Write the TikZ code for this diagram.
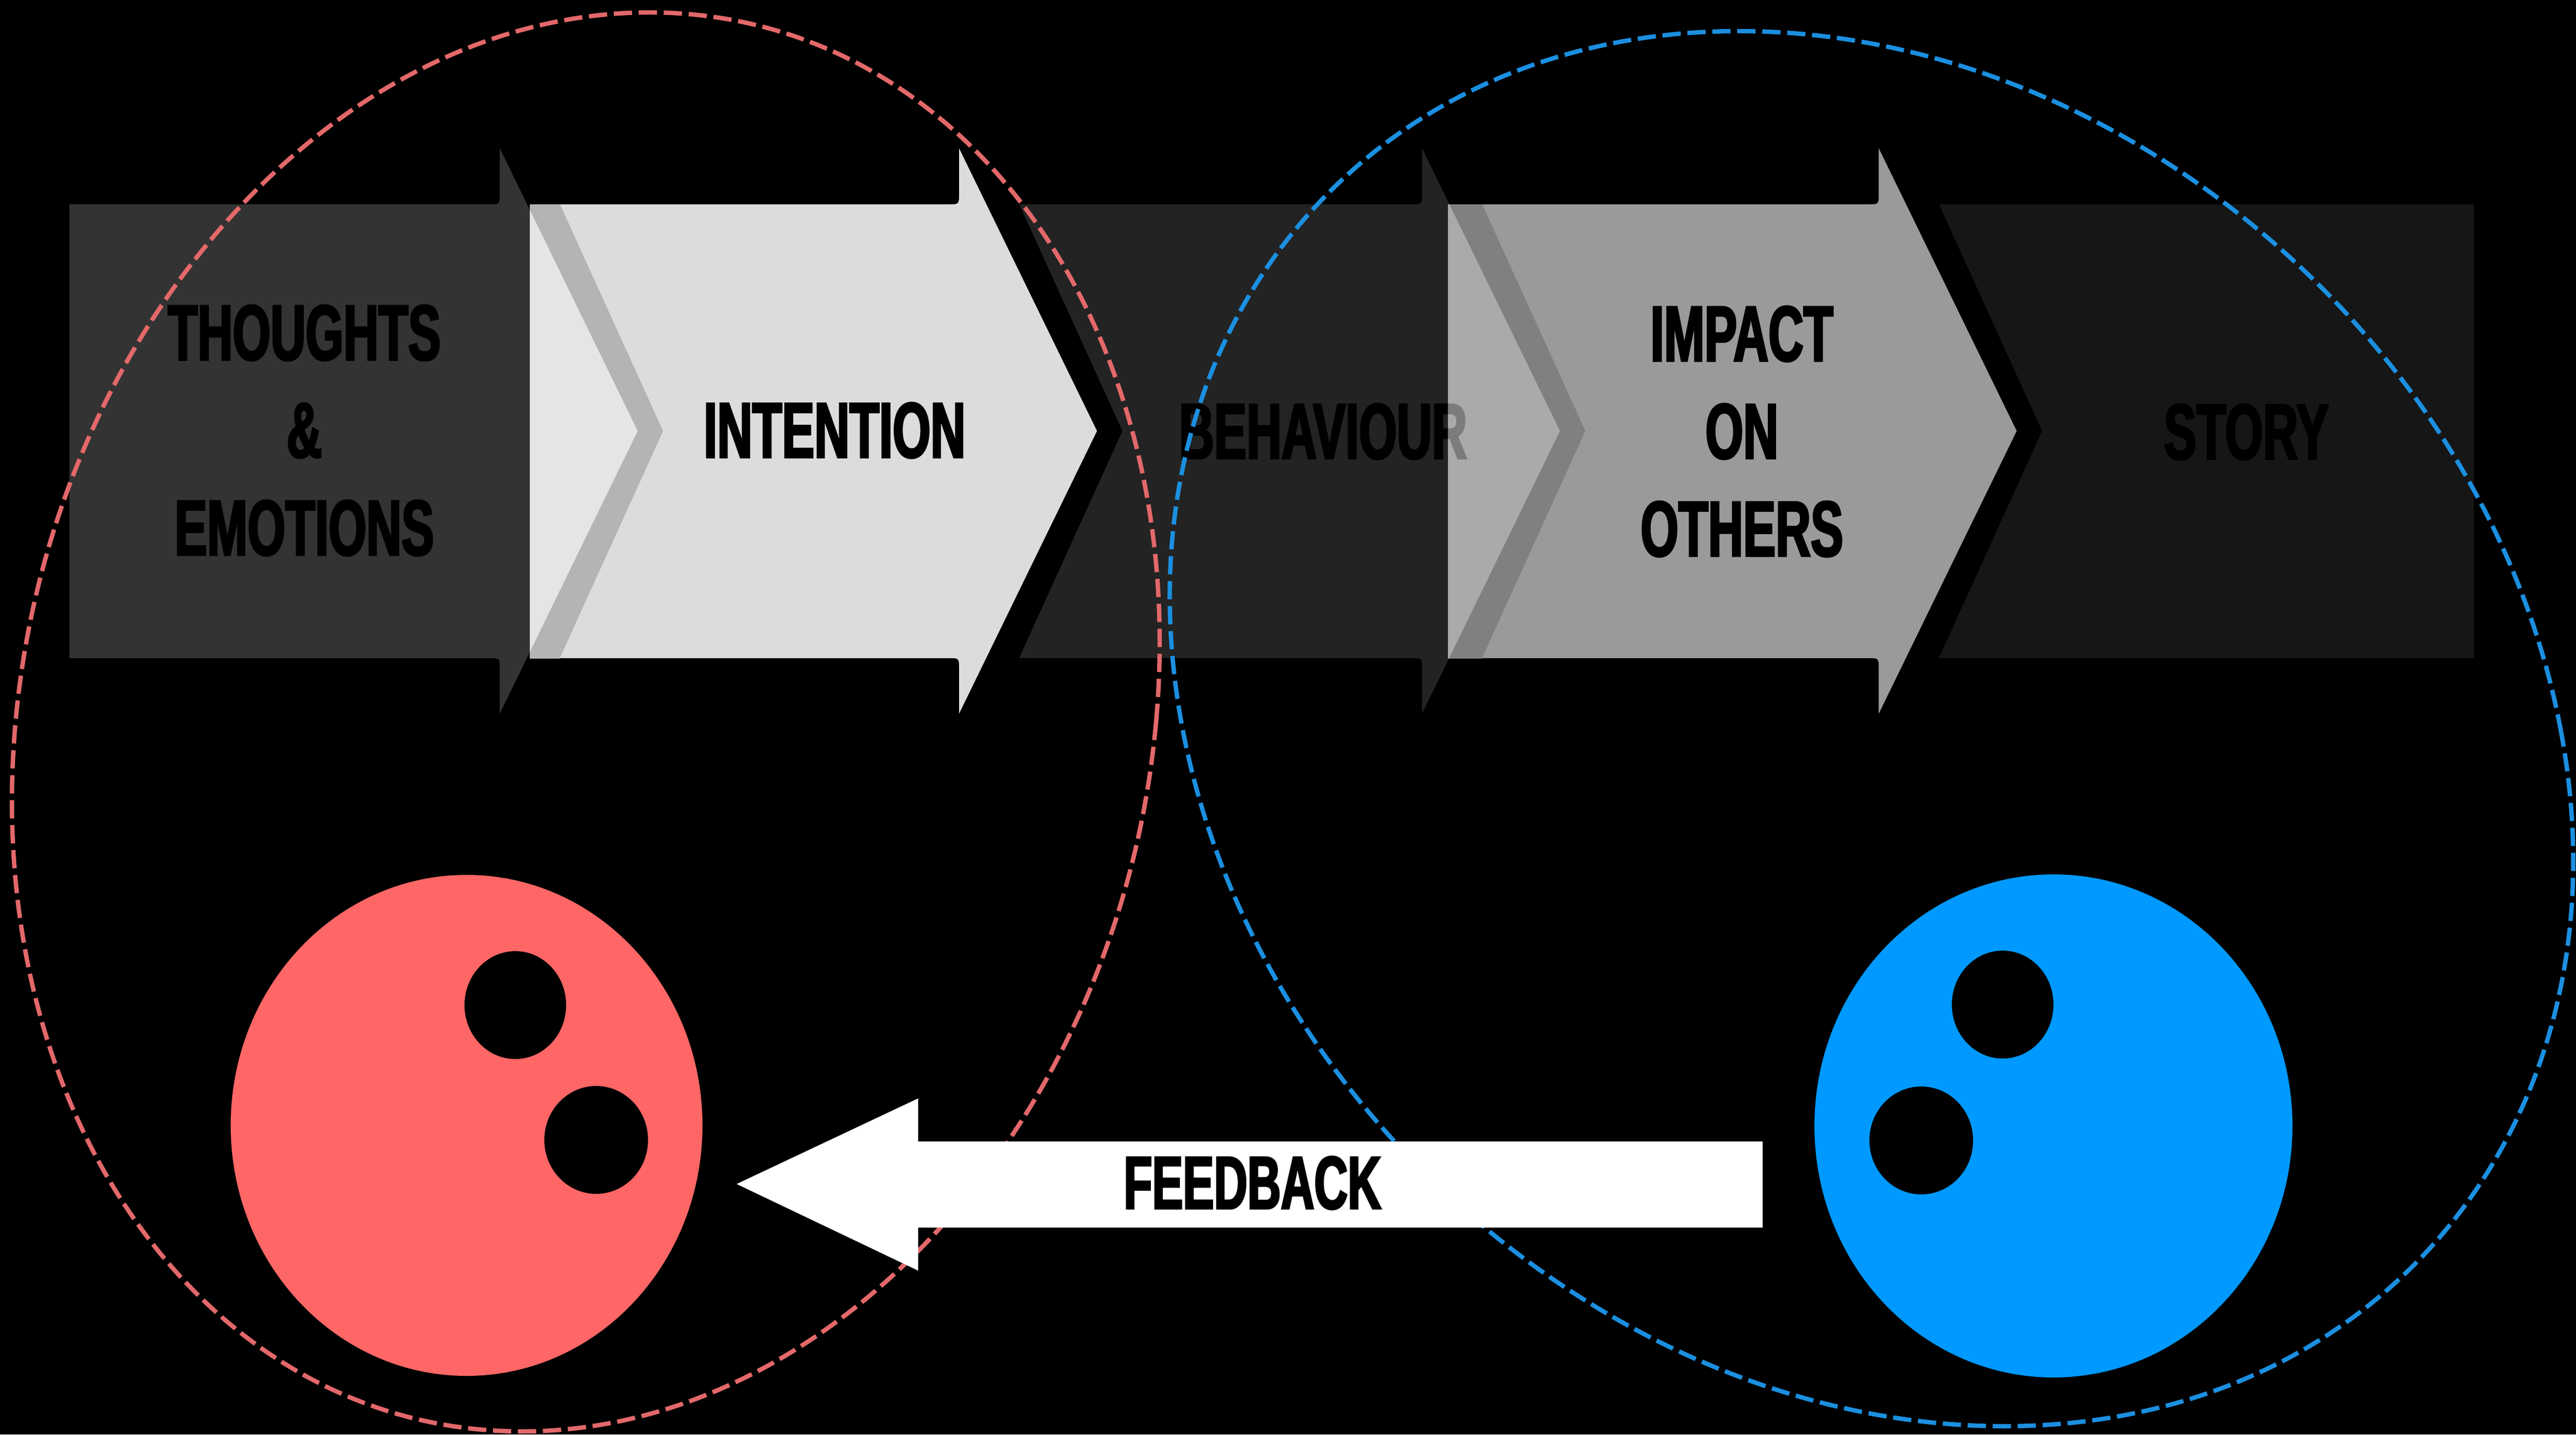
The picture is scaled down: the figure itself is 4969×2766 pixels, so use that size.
\documentclass[tikz,border=0pt]{standalone}
\usepackage{fontspec}
\usepackage{tikz}
\newfontfamily\stepfont{Liberation Sans}[FakeStretch=0.62, FakeBold=2.5]
\definecolor{thoughtsgray}{RGB}{51,51,51}
\definecolor{intentiongray}{RGB}{220,220,220}
\definecolor{intentionstripe}{RGB}{180,180,180}
\definecolor{intentionnotch}{RGB}{234,234,234}
\definecolor{behaviourgray}{RGB}{35,35,35}
\definecolor{impactgray}{RGB}{154,154,154}
\definecolor{impactstripe}{RGB}{128,128,128}
\definecolor{impactnotch}{RGB}{177,177,177}
\definecolor{storygray}{RGB}{22,22,22}
\definecolor{selfred}{RGB}{255,102,102}
\definecolor{selfline}{RGB}{227,104,106}
\definecolor{otherblue}{RGB}{0,153,255}
\definecolor{otherline}{RGB}{27,143,224}

\begin{document}
\begin{tikzpicture}[x=0.01cm, y=-0.01cm,
    every node/.style={inner sep=0pt, align=center},
    steplabel/.style={font=\stepfont\bfseries\fontsize{43}{53.5}\selectfont},
    zone/.style={line width=2.4pt, dash pattern=on 10pt off 3.7pt}]

    % Background
    \fill[black] (0,0) rectangle (4969,2766);
    \useasboundingbox (0,0) rectangle (4969,2766);

    % Dark steps
    \foreach \xa/\hx/\col in {134/964/thoughtsgray, 1850/2743/behaviourgray} {
        \fill[\col] (\xa,394) -- (\hx-20,394) .. controls (\hx,394) .. (\hx,374) -- (\hx,286)
            -- (\hx+266,831) -- (\hx,1376) -- (\hx,1289) .. controls (\hx,1269) .. (\hx-20,1269)
            -- (\xa,1269) -- cycle;
    }
    \fill[storygray] (3624,394) rectangle (4772,1269);

    % Light steps: black rim round the head, earlier head seen through
    \foreach \xa/\hx/\ph/\col/\sc in {1022/1850/964/intentiongray/intentionstripe, 2793/3624/2743/impactgray/impactstripe} {
        \fill[black] (\hx,286) -- (\hx+67,286) -- (\hx+315,831) -- (\hx+67,1376) -- (\hx,1376) -- cycle;
        \fill[\col] (\xa,394) -- (\hx-20,394) .. controls (\hx,394) .. (\hx,374) -- (\hx,286)
            -- (\hx+266,831) -- (\hx,1376) -- (\hx,1289) .. controls (\hx,1269) .. (\hx-20,1269)
            -- (\xa,1269) -- cycle;
        \begin{scope}
            \clip (\xa,394) rectangle (\hx,1269);
            \fill[\sc] (\ph,286) -- (\ph+67,286) -- (\ph+315,831) -- (\ph+67,1376) -- (\ph,1376) -- (\ph+266,831) -- cycle;
        \end{scope}
    }

    % Step labels
    \node[steplabel] (thoughts) at (587,830) {THOUGHTS\\\&\\EMOTIONS};
    \node[steplabel] (intention) at (1610,830) {INTENTION};
    \node[steplabel] (behaviour) at (2552,832) {BEHAVIOUR};
    \node[steplabel] (impact) at (3360,832) {IMPACT\\ON\\OTHERS};
    \node[steplabel] (story) at (4333,833) {STORY};

    % Earlier head over the light steps
    \foreach \xa/\hx/\ph/\col in {1022/1850/964/intentionnotch, 2793/3624/2743/impactnotch} {
        \begin{scope}
            \clip (\xa,394) rectangle (\hx,1269);
            \fill[\col, fill opacity=0.7] (\ph,286) -- (\ph+266,831) -- (\ph,1376) -- cycle;
        \end{scope}
    }

    % Self and other
    \begin{scope}[shift={(1130,1392)}, xslant=0.09]
        \draw[zone, selfline] (0,0) ellipse [x radius=1100, y radius=1368];
    \end{scope}
    \begin{scope}[shift={(3610,1405)}, xslant=-0.19]
        \draw[zone, otherline] (0,0) ellipse [x radius=1329, y radius=1345];
    \end{scope}

    % Faces
    \fill[selfred] (900,2170) ellipse [x radius=455, y radius=483];
    \fill[black] (994,1938) ellipse [x radius=98, y radius=104];
    \fill[black] (1150,2198) ellipse [x radius=100, y radius=104];
    \fill[otherblue] (3961,2171) ellipse [x radius=461, y radius=485];
    \fill[black] (3863,1937) ellipse [x radius=98, y radius=104];
    \fill[black] (3706,2199) ellipse [x radius=100, y radius=104];

    % Feedback arrow
    \fill[white] (1421,2283) -- (1771,2118) -- (1771,2201) -- (3400,2201) -- (3400,2367)
        -- (1771,2367) -- (1771,2450) -- cycle;
    \node[font=\stepfont\bfseries\fontsize{41}{50}\selectfont] (feedback) at (2416,2281) {FEEDBACK};
\end{tikzpicture}
\end{document}
